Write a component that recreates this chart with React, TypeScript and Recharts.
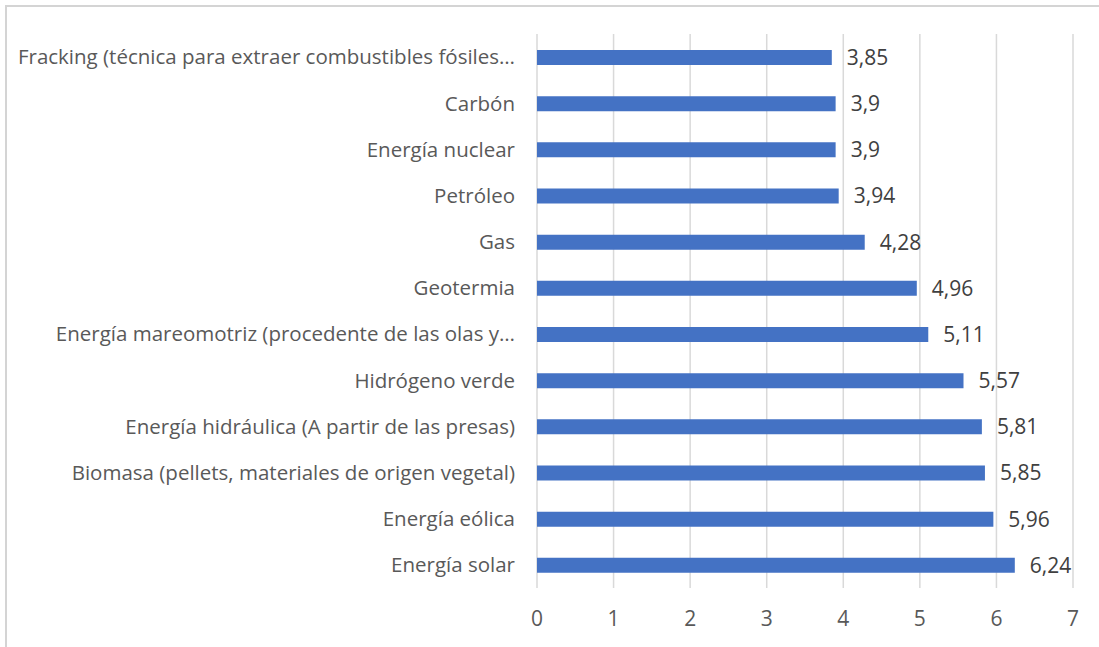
import React from "react";
import { Bar, BarChart, CartesianGrid, LabelList, XAxis, YAxis } from "recharts";

const categories = [
  "Fracking (técnica para extraer combustibles fósiles…",
  "Carbón",
  "Energía nuclear",
  "Petróleo",
  "Gas",
  "Geotermia",
  "Energía mareomotriz (procedente de las olas y…",
  "Hidrógeno verde",
  "Energía hidráulica (A partir de las presas)",
  "Biomasa (pellets, materiales de origen vegetal)",
  "Energía eólica",
  "Energía solar",
];

const values = [3.85, 3.9, 3.9, 3.94, 4.28, 4.96, 5.11, 5.57, 5.81, 5.85, 5.96, 6.24];

const xTicks = [0, 1, 2, 3, 4, 5, 6, 7];

const data = categories.map((name, i) => ({ name, value: values[i] }));

const FONT = "'Open Sans', sans-serif";

function formatComma(value: number | string): string {
  return String(value).replace(".", ",");
}

export default function App() {
  return (
    <div style={{ position: "absolute", left: 0, top: 0, width: 1099, height: 647, background: "#fff" }}>
      {/* chart frame: only its top and left edges fall inside the picture */}
      <div
        style={{
          position: "absolute",
          left: 5,
          top: 5,
          width: 1094,
          height: 642,
          borderTop: "2px solid #d4d4d4",
          borderLeft: "2px solid #d4d4d4",
          boxSizing: "border-box",
        }}
      />
      <div style={{ position: "absolute", left: 0, top: 0 }}>
        <BarChart
          width={1099}
          height={647}
          data={data}
          layout="vertical"
          margin={{ top: 34, right: 26, bottom: 0, left: 0 }}
          barSize={15}
        >
          <CartesianGrid horizontal={false} stroke="#d9d9d9" strokeWidth={1.5} />
          <XAxis
            type="number"
            domain={[0, 7]}
            ticks={xTicks}
            axisLine={false}
            tickLine={false}
            height={59}
            tickMargin={17}
            tick={{ fontSize: 21, fill: "#595959", fontFamily: FONT }}
          />
          <YAxis
            type="category"
            dataKey="name"
            width={537}
            axisLine={false}
            tickLine={false}
            tickMargin={16}
            interval={0}
            tick={{ fontSize: 20.5, fill: "#595959", fontFamily: FONT }}
          />
          <Bar dataKey="value" fill="#4472C4" isAnimationActive={false}>
            <LabelList
              dataKey="value"
              position="right"
              offset={15}
              formatter={(v: number) => formatComma(v)}
              style={{ fontSize: 21, fill: "#404040", fontFamily: FONT }}
            />
          </Bar>
        </BarChart>
      </div>
    </div>
  );
}
